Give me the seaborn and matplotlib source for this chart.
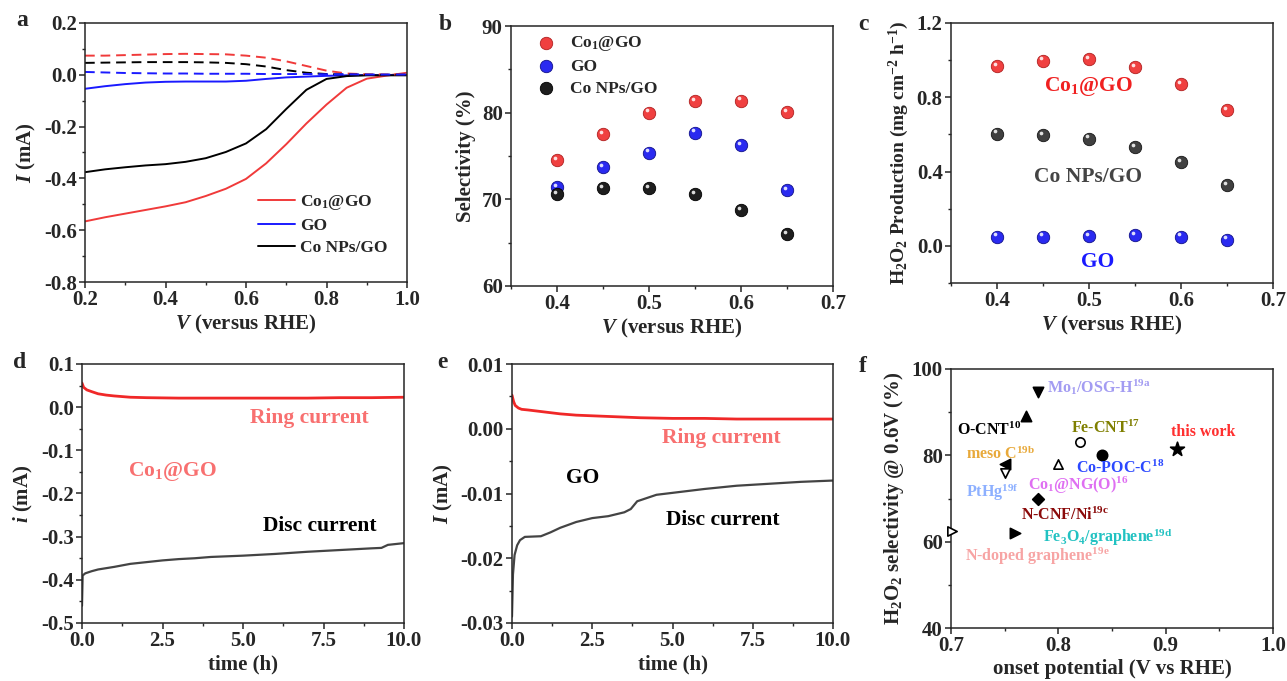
import numpy as np
import pandas as pd
import matplotlib
matplotlib.use("Agg")
import matplotlib.pyplot as plt
import seaborn as sns
from matplotlib.ticker import MultipleLocator, FormatStrFormatter
from matplotlib.transforms import ScaledTranslation

# ---------------- data ----------------
# panel a (LSV, disc solid / ring dashed)
V_a = [0.20, 0.25, 0.30, 0.35, 0.40, 0.45, 0.50, 0.55, 0.60, 0.65, 0.70, 0.75, 0.80, 0.85, 0.90, 0.95, 1.00]
co1_disc = [-0.566, -0.550, -0.536, -0.522, -0.508, -0.492, -0.468, -0.440, -0.402, -0.342, -0.268, -0.188, -0.115, -0.050, -0.015, -0.003, 0.008]
go_disc = [-0.054, -0.044, -0.036, -0.030, -0.027, -0.026, -0.026, -0.026, -0.023, -0.016, -0.010, -0.007, -0.004, -0.002, -0.001, -0.001, -0.001]
conp_disc = [-0.376, -0.365, -0.357, -0.350, -0.345, -0.336, -0.322, -0.298, -0.265, -0.210, -0.132, -0.058, -0.016, -0.005, -0.002, -0.002, -0.002]
co1_ring = [0.074, 0.074, 0.076, 0.078, 0.080, 0.081, 0.080, 0.079, 0.074, 0.066, 0.052, 0.034, 0.016, 0.005, 0.002, 0.001, 0.001]
go_ring = [0.011, 0.009, 0.007, 0.006, 0.005, 0.005, 0.004, 0.004, 0.004, 0.003, 0.003, 0.003, 0.002, 0.002, 0.001, 0.001, 0.001]
conp_ring = [0.046, 0.047, 0.048, 0.049, 0.049, 0.049, 0.048, 0.046, 0.041, 0.032, 0.018, 0.008, 0.003, 0.001, 0.000, 0.000, 0.000]

# panel b (selectivity) and c (H2O2 production)
V_bc = [0.40, 0.45, 0.50, 0.55, 0.60, 0.65]
sel_co1 = [74.5, 77.5, 80.0, 81.3, 81.4, 80.1]
sel_go = [71.4, 73.7, 75.4, 77.7, 76.3, 71.1]
sel_conp = [70.6, 71.3, 71.3, 70.6, 68.8, 66.0]
prod_co1 = [0.966, 0.998, 1.005, 0.962, 0.870, 0.730]
prod_conp = [0.604, 0.598, 0.578, 0.530, 0.449, 0.326]
prod_go = [0.050, 0.050, 0.054, 0.059, 0.050, 0.034]

# panel d (Co1@GO stability)
t_d_ring = [0, 0.05, 0.15, 0.3, 0.5, 0.75, 1, 1.5, 2, 3, 4, 5, 6, 7, 8, 9, 10]
i_d_ring = [0.056, 0.046, 0.040, 0.036, 0.031, 0.028, 0.026, 0.023, 0.022, 0.021, 0.021, 0.021, 0.021, 0.021, 0.022, 0.022, 0.023]
t_d_disc = [0, 0.02, 0.1, 0.3, 0.5, 1, 1.5, 2, 2.5, 3, 3.5, 4, 5, 6, 7, 8, 9, 9.3, 9.5, 10]
i_d_disc = [-0.46, -0.39, -0.385, -0.380, -0.376, -0.370, -0.363, -0.359, -0.355, -0.352, -0.350, -0.347, -0.344, -0.340, -0.335, -0.331, -0.327, -0.326, -0.319, -0.315]

# panel e (GO stability)
t_e_ring = [0, 0.05, 0.1, 0.2, 0.3, 0.5, 1, 1.5, 2, 3, 4, 5, 6, 7, 8, 9, 10]
i_e_ring = [0.0052, 0.0042, 0.0036, 0.0032, 0.0030, 0.0029, 0.0026, 0.0023, 0.0021, 0.0019, 0.0017, 0.0016, 0.0016, 0.0015, 0.0015, 0.0015, 0.0015]
t_e_disc = [0, 0.03, 0.08, 0.16, 0.25, 0.4, 0.9, 1.2, 1.5, 2.0, 2.5, 3.0, 3.5, 3.7, 3.9, 4.2, 4.5, 5, 6, 7, 8, 9, 10]
i_e_disc = [-0.029, -0.0225, -0.0195, -0.0180, -0.0172, -0.0167, -0.0166, -0.0160, -0.0153, -0.0144, -0.0138, -0.0135, -0.0129, -0.0124, -0.0112, -0.0107, -0.0102, -0.0099, -0.0093, -0.0088, -0.0085, -0.0082, -0.0080]

# panel f (comparison)
f_names = [r"Mo$_1$/OSG-H$^{\mathrm{19a}}$", r"O-CNT$^{\mathrm{10}}$", r"Fe-CNT$^{\mathrm{17}}$",
           r"Co-POC-C$^{\mathrm{18}}$", "this work", r"Co$_1$@NG(O)$^{\mathrm{16}}$",
           r"meso C$^{\mathrm{19b}}$", r"PtHg$^{\mathrm{19f}}$", r"N-CNF/Ni$^{\mathrm{19c}}$",
           r"Fe$_3$O$_4$/graphene$^{\mathrm{19d}}$", r"N-doped graphene$^{\mathrm{19e}}$"]
f_onset = [0.781, 0.770, 0.820, 0.841, 0.911, 0.800, 0.750, 0.750, 0.781, 0.760, 0.701]
f_sel = [94.7, 89.1, 83.0, 80.0, 81.4, 78.1, 78.0, 75.8, 69.9, 62.0, 62.5]

# ---------------- style ----------------
sns.set_style("ticks")
plt.rcParams["font.family"] = ["Liberation Serif", "DejaVu Serif"]
plt.rcParams["font.weight"] = "bold"
plt.rcParams["axes.labelweight"] = "bold"
plt.rcParams["mathtext.fontset"] = "custom"
plt.rcParams["mathtext.rm"] = "Liberation Serif:bold"
plt.rcParams["mathtext.bf"] = "Liberation Serif:bold"
plt.rcParams["mathtext.it"] = "Liberation Serif:italic:bold"
plt.rcParams["mathtext.default"] = "rm"
plt.rcParams["axes.unicode_minus"] = False

TICK = 15
LAB = 15
BOLD = "bold"

fig = plt.figure(figsize=(12.87, 6.81), dpi=100)
W, H = 1287, 681


def add_ax(l, t, r, b):
    return fig.add_axes([l / W, 1 - b / H, (r - l) / W, (b - t) / H])


def style(ax, xmaj, xmin, ymaj, ymin):
    ax.xaxis.set_major_locator(MultipleLocator(xmaj))
    ax.xaxis.set_minor_locator(MultipleLocator(xmin))
    ax.yaxis.set_major_locator(MultipleLocator(ymaj))
    ax.yaxis.set_minor_locator(MultipleLocator(ymin))
    ax.tick_params(which="major", direction="out", length=4, width=1.1, labelsize=TICK,
                   top=False, right=False, pad=2)
    ax.tick_params(which="minor", direction="out", length=2.5, width=1.0, top=False, right=False)
    for s in ax.spines.values():
        s.set_linewidth(1.1)
        s.set_visible(True)
    for lbl in ax.get_xticklabels() + ax.get_yticklabels():
        lbl.set_fontweight(BOLD)


def balls(ax, x, y, color, edge, label=None):
    sns.scatterplot(x=x, y=y, ax=ax, s=80, color=color, edgecolor=edge, linewidth=0.6,
                    label=label, legend=False, zorder=3)
    off = ScaledTranslation(-1.6 / 72, 1.6 / 72, fig.dpi_scale_trans)
    ax.scatter(x, y, s=7, color="white", alpha=0.85, linewidths=0,
               transform=ax.transData + off, zorder=4)


def letter(x, y, s):
    fig.text(x / W, 1 - y / H, s, fontsize=17, fontweight=BOLD, ha="center", va="center")


def label_text(ax, x, y, s, color, size):
    ax.text(x, y, s, color=color, fontsize=size, fontweight=BOLD, ha="center", va="center")


LEG = {"weight": "bold", "size": 12.5}
RED = "#f03a3a"
BLUE = "#1a1aff"
VLAB = r"$\mathit{V}$ (versus RHE)"

# ---------------- panel a ----------------
ax = add_ax(85, 23, 407, 282)
sns.lineplot(x=V_a, y=co1_disc, ax=ax, color=RED, lw=1.4, label="Co$_1$@GO", sort=False, estimator=None)
sns.lineplot(x=V_a, y=go_disc, ax=ax, color=BLUE, lw=1.4, label="GO", sort=False, estimator=None)
sns.lineplot(x=V_a, y=conp_disc, ax=ax, color="black", lw=1.4, label="Co NPs/GO", sort=False, estimator=None)
for arr, c in [(co1_ring, RED), (conp_ring, "black"), (go_ring, BLUE)]:
    sns.lineplot(x=V_a, y=arr, ax=ax, color=c, lw=1.4, sort=False, estimator=None)
    ax.lines[-1].set_dashes((5, 3))
ax.set_xlim(0.2, 1.0)
ax.set_ylim(-0.8, 0.2)
style(ax, 0.2, 0.1, 0.2, 0.1)
ax.set_xlabel(VLAB, fontsize=LAB, fontweight=BOLD, labelpad=2)
ax.set_ylabel(r"$\mathit{I}$ (mA)", fontsize=LAB, fontweight=BOLD, labelpad=4)
ax.legend(loc="upper left", bbox_to_anchor=(0.516, 0.369), borderaxespad=0, frameon=False,
          prop=LEG, handlelength=2.1, handletextpad=0.3, labelspacing=0.32)

# ---------------- panel b ----------------
ax = add_ax(511, 26, 833, 286)
balls(ax, V_bc, sel_co1, "#f04040", "#b02020", "Co$_1$@GO")
balls(ax, V_bc, sel_go, "#2a2af0", "#10108a", "GO")
balls(ax, V_bc, sel_conp, "#1e1e1e", "#000000", "Co NPs/GO")
ax.set_xlim(0.35, 0.7)
ax.set_ylim(60, 90)
style(ax, 0.1, 0.05, 10, 5)
ax.set_xlabel(VLAB, fontsize=LAB, fontweight=BOLD, labelpad=2)
ax.set_ylabel("Selectivity (%)", fontsize=LAB, fontweight=BOLD, labelpad=4)
ax.legend(loc="upper left", bbox_to_anchor=(0.059, 0.995), borderaxespad=0, frameon=False,
          prop=LEG, handlelength=1.0, handletextpad=0.9, labelspacing=0.32)

# ---------------- panel c ----------------
ax = add_ax(951, 23, 1273, 283)
balls(ax, V_bc, prod_co1, "#f04040", "#b02020")
balls(ax, V_bc, prod_conp, "#404040", "#151515")
balls(ax, V_bc, prod_go, "#2a2af0", "#10108a")
ax.set_xlim(0.35, 0.7)
ax.set_ylim(-0.2, 1.2)
style(ax, 0.1, 0.05, 0.4, 0.2)
ax.set_xlabel(VLAB, fontsize=LAB, fontweight=BOLD, labelpad=2)
ax.set_ylabel("H$_2$O$_2$ Production (mg cm$^{-2}$ h$^{-1}$)", fontsize=14, fontweight=BOLD, labelpad=4)
label_text(ax, 0.499, 0.86, "Co$_1$@GO", "#f02020", 15.5)
label_text(ax, 0.499, 0.371, "Co NPs/GO", "#444444", 15.5)
label_text(ax, 0.509, -0.085, "GO", "#1a1aff", 15.5)

# ---------------- panel d ----------------
ax = add_ax(82, 364, 404, 623)
sns.lineplot(x=t_d_ring, y=i_d_ring, ax=ax, color="#f02828", lw=2.0, sort=False, estimator=None)
sns.lineplot(x=t_d_disc, y=i_d_disc, ax=ax, color="#444444", lw=1.6, sort=False, estimator=None)
ax.set_xlim(0, 10)
ax.set_ylim(-0.5, 0.1)
style(ax, 2.5, 1.25, 0.1, 0.05)
ax.xaxis.set_major_formatter(FormatStrFormatter("%.1f"))
ax.set_xlabel("time (h)", fontsize=LAB, fontweight=BOLD, labelpad=2)
ax.set_ylabel(r"$\mathit{i}$ (mA)", fontsize=LAB, fontweight=BOLD, labelpad=4)
label_text(ax, 7.06, -0.025, "Ring current", "#f87070", 15.5)
label_text(ax, 2.81, -0.15, "Co$_1$@GO", "#f87070", 15.5)
label_text(ax, 7.39, -0.276, "Disc current", "black", 15.5)

# ---------------- panel e ----------------
ax = add_ax(512, 364, 833, 623)
sns.lineplot(x=t_e_ring, y=i_e_ring, ax=ax, color="#f02828", lw=2.0, sort=False, estimator=None)
sns.lineplot(x=t_e_disc, y=i_e_disc, ax=ax, color="#444444", lw=1.6, sort=False, estimator=None)
ax.set_xlim(0, 10)
ax.set_ylim(-0.03, 0.01)
style(ax, 2.5, 1.25, 0.01, 0.005)
ax.xaxis.set_major_formatter(FormatStrFormatter("%.1f"))
ax.yaxis.set_major_formatter(FormatStrFormatter("%.2f"))
ax.set_xlabel("time (h)", fontsize=LAB, fontweight=BOLD, labelpad=2)
ax.set_ylabel(r"$\mathit{I}$ (mA)", fontsize=LAB, fontweight=BOLD, labelpad=4)
label_text(ax, 6.53, -0.0015, "Ring current", "#f87070", 15.5)
label_text(ax, 2.2, -0.0076, "GO", "black", 15.5)
label_text(ax, 6.56, -0.0141, "Disc current", "black", 15.5)

# ---------------- panel f ----------------
ax = add_ax(951, 369, 1273, 628)
f_markers = ["v", "^", "o", "o", "*", "^", "<", "v", "D", ">", ">"]
f_filled = [True, True, False, True, True, False, True, False, True, True, False]
f_sizes = [55, 55, 45, 55, 110, 45, 55, 45, 35, 55, 45]
for i in range(len(f_onset)):
    sns.scatterplot(x=[f_onset[i]], y=[f_sel[i]], ax=ax, marker=f_markers[i], s=f_sizes[i],
                    color="black" if f_filled[i] else "white", edgecolor="black",
                    linewidth=1.2, legend=False, zorder=3, clip_on=False)
f_label_pos = [(0.789, 95.9), (0.7056, 85.8), (0.812, 86.2), (0.816, 77.0), (0.905, 85.5),
               (0.772, 73.1), (0.714, 80.4), (0.714, 71.5), (0.7655, 66.1), (0.786, 61.1), (0.7127, 56.5)]
f_label_col = ["#a39cf2", "black", "#7f7f00", "#2b48ff", "#ff3030", "#df6ff2", "#e8a93a",
               "#8db0ff", "#8b0a0a", "#22c2c2", "#f7a4a4"]
for name, (lx, ly), c in zip(f_names, f_label_pos, f_label_col):
    ax.text(lx, ly, name, color=c, fontsize=11.5, fontweight=BOLD, ha="left", va="center")
ax.set_xlim(0.7, 1.0)
ax.set_ylim(40, 100)
style(ax, 0.1, 0.05, 20, 10)
ax.set_xlabel("onset potential (V vs RHE)", fontsize=LAB, fontweight=BOLD, labelpad=2)
ax.set_ylabel("H$_2$O$_2$ selectivity @ 0.6V (%)", fontsize=LAB, fontweight=BOLD, labelpad=4)

for x, y, s in [(22, 21, "a"), (445, 25, "b"), (863, 25, "c"), (20, 363, "d"), (442, 363, "e"), (863, 367, "f")]:
    letter(x, y, s)

fig.savefig("out.png", dpi=100)
